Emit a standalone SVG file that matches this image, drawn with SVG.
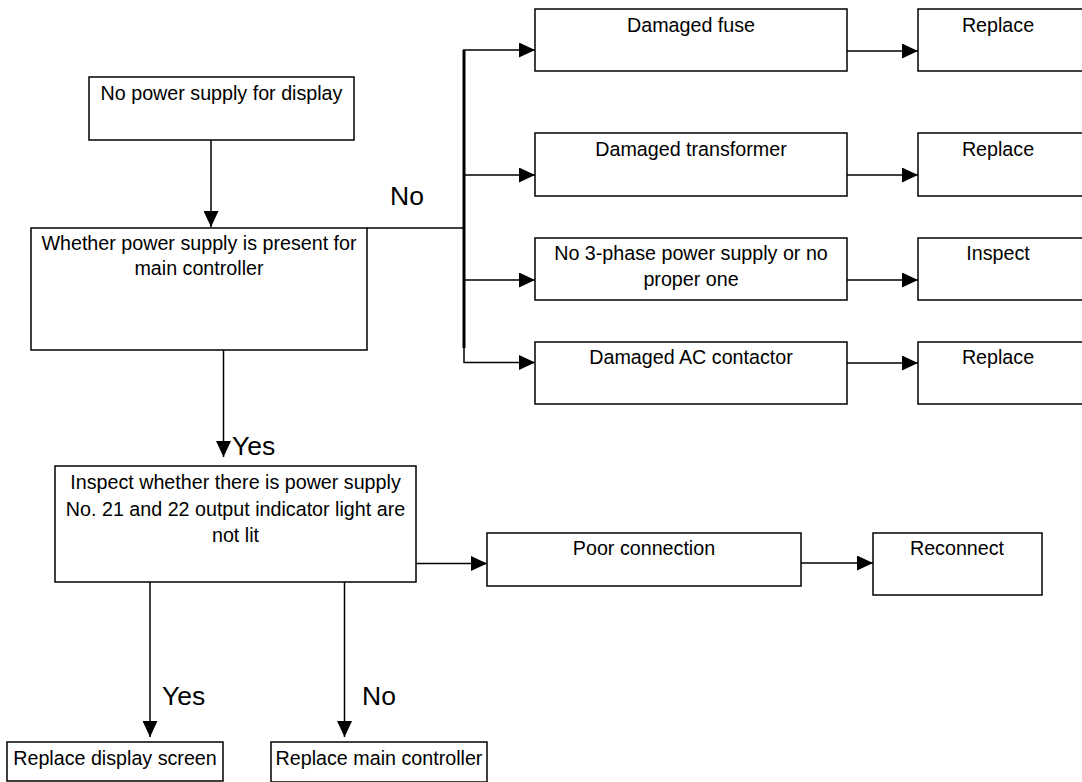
<svg xmlns="http://www.w3.org/2000/svg" width="1082" height="782" viewBox="0 0 1082 782">
<style>
.box{fill:#fff;stroke:#000;stroke-width:1.5}
.t{font-family:"Liberation Sans",Arial,sans-serif;font-size:19.7px;fill:#000;text-anchor:middle}
.lbl{font-family:"Liberation Sans",Arial,sans-serif;font-size:26.5px;fill:#000}
.c{fill:none;stroke:#000;stroke-width:1.5}
.ca{fill:none;stroke:#000;stroke-width:1.5;marker-end:url(#ah)}
</style>
<defs>
<marker id="ah" viewBox="0 0 16 15" markerWidth="16" markerHeight="15" refX="16" refY="7.5" orient="auto" markerUnits="userSpaceOnUse">
<path d="M0,0 L16,7.5 L0,15 z" fill="#000"/>
</marker>
</defs>
<rect width="1082" height="782" fill="#fff"/>
<g id="connectors">
<path class="ca" d="M211,140 V227"/>
<path class="c" d="M367,228 H464"/>
<path d="M464,50 V348" stroke="#000" stroke-width="3" fill="none"/>
<path class="ca" d="M464,347 V362.5 H535"/>
<path class="ca" d="M463,50 H535"/>
<path class="ca" d="M463,175 H535"/>
<path class="ca" d="M463,280 H535"/>
<path class="ca" d="M847,51 H918"/>
<path class="ca" d="M847,175 H918"/>
<path class="ca" d="M847,280 H918"/>
<path class="ca" d="M847,363 H918"/>
<path class="ca" d="M223.5,350 V457"/>
<path class="ca" d="M416,563.5 H487"/>
<path class="ca" d="M801,563 H873"/>
<path class="ca" d="M150,582 V737"/>
<path class="ca" d="M344.5,582 V737"/>
<text class="lbl" x="390" y="205">No</text>
<text class="lbl" x="232" y="455">Yes</text>
<text class="lbl" x="162" y="705">Yes</text>
<text class="lbl" x="362" y="705">No</text>
</g>
<g id="n1"><rect class="box" x="89" y="77" width="265" height="63"/><text class="t" x="221.5" y="100">No power supply for display</text></g>
<g id="n2"><rect class="box" x="31" y="228" width="336" height="122"/><text class="t" x="199" y="250">Whether power supply is present for</text><text class="t" x="199" y="275">main controller</text></g>
<g id="n3"><rect class="box" x="55" y="466" width="361" height="116"/><text class="t" x="235.5" y="489">Inspect whether there is power supply</text><text class="t" x="235.5" y="515.5">No. 21 and 22 output indicator light are</text><text class="t" x="235.5" y="542">not lit</text></g>
<g id="fuse"><rect class="box" x="535" y="9" width="312" height="62"/><text class="t" x="691" y="31.7">Damaged fuse</text></g>
<g id="transformer"><rect class="box" x="535" y="133" width="312" height="63"/><text class="t" x="691" y="155.7">Damaged transformer</text></g>
<g id="phase"><rect class="box" x="535" y="238" width="312" height="62"/><text class="t" x="691" y="260">No 3-phase power supply or no</text><text class="t" x="691" y="286">proper one</text></g>
<g id="ac"><rect class="box" x="535" y="342" width="312" height="62"/><text class="t" x="691" y="363.5">Damaged AC contactor</text></g>
<g id="replace1"><rect class="box" x="918" y="9" width="170" height="62"/><text class="t" x="998" y="31.7">Replace</text></g>
<g id="replace2"><rect class="box" x="918" y="133" width="170" height="63"/><text class="t" x="998" y="155.7">Replace</text></g>
<g id="inspect"><rect class="box" x="918" y="238" width="170" height="62"/><text class="t" x="998" y="260">Inspect</text></g>
<g id="replace4"><rect class="box" x="918" y="342" width="170" height="62"/><text class="t" x="998" y="363.5">Replace</text></g>
<g id="poor"><rect class="box" x="487" y="533" width="314" height="53"/><text class="t" x="644" y="555">Poor connection</text></g>
<g id="reconnect"><rect class="box" x="873" y="533" width="169" height="62"/><text class="t" x="957" y="555">Reconnect</text></g>
<g id="rds"><rect class="box" x="7" y="742" width="216" height="39"/><text class="t" x="115" y="765">Replace display screen</text></g>
<g id="rmc"><rect class="box" x="271" y="742" width="216" height="40"/><text class="t" x="379" y="765">Replace main controller</text></g>
</svg>
